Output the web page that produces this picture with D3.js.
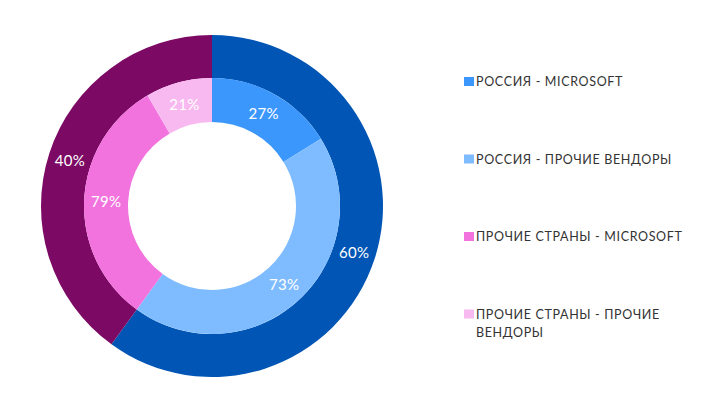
<html>
<head>
<script src="https://d3js.org/d3.v7.min.js"></script>
<style>
body { margin: 0; background: #fff; font-family: Lato, "Open Sans", sans-serif; }
.lbl { fill: #fff; font-size: 15px; text-anchor: middle; dominant-baseline: central; letter-spacing: 0.3px; }
.legend text { fill: #333; font-size: 12.5px; letter-spacing: 0.65px; }
</style>
</head>
<body>
<div id="chart"></div>
<script>
// outer ring: countries
var countries = ["РОССИЯ", "ПРОЧИЕ СТРАНЫ"];
var countryShare = [60, 40];
var countryColors = ["#0055b5", "#7c0964"];
// inner ring: vendor split inside each country (percent of that country)
var vendorShare = [[27, 73], [79, 21]];
var vendorColors = [["#3b97fc", "#7fbcff"], ["#f272de", "#f8b9f0"]];
var legendLabels = [
  ["РОССИЯ - MICROSOFT"],
  ["РОССИЯ - ПРОЧИЕ ВЕНДОРЫ"],
  ["ПРОЧИЕ СТРАНЫ - MICROSOFT"],
  ["ПРОЧИЕ СТРАНЫ - ПРОЧИЕ", "ВЕНДОРЫ"]
];

var width = 705, height = 417;
var cx = 212, cy = 206;
var rOuter = 171, rMid = 128, rHole = 84;

var svg = d3.select("#chart").append("svg")
  .attr("width", width).attr("height", height);
var g = svg.append("g").attr("transform", `translate(${cx}, ${cy})`);

/* outer ring */
var pie = d3.pie().sort(null).value(d => d);
var outerArcs = pie(countryShare);
var outerArc = d3.arc().innerRadius(rMid).outerRadius(rOuter);
g.selectAll(".outer").data(outerArcs).enter()
  .append("path").attr("class", "outer")
  .attr("d", outerArc)
  .attr("fill", (d, i) => countryColors[i]);
g.selectAll(".outer-lbl").data(outerArcs).enter()
  .append("text").attr("class", "lbl")
  .attr("transform", d => `translate(${outerArc.centroid(d)})`)
  .text(d => d.data + "%");

/* inner ring, nested inside each country slice */
var innerArc = d3.arc().innerRadius(rHole).outerRadius(rMid);
var innerData = [];
outerArcs.forEach(function(o, i) {
  var sub = d3.pie().sort(null).value(d => d)
    .startAngle(o.startAngle).endAngle(o.endAngle)(vendorShare[i]);
  sub.forEach(function(s, j) { s.color = vendorColors[i][j]; innerData.push(s); });
});
g.selectAll(".inner").data(innerData).enter()
  .append("path").attr("class", "inner")
  .attr("d", innerArc)
  .attr("fill", d => d.color);
g.selectAll(".inner-lbl").data(innerData).enter()
  .append("text").attr("class", "lbl")
  .attr("transform", d => `translate(${innerArc.centroid(d)})`)
  .text(d => d.data + "%");

/* legend */
var legendColors = [vendorColors[0][0], vendorColors[0][1], vendorColors[1][0], vendorColors[1][1]];
var legend = svg.append("g").attr("class", "legend");
var item = legend.selectAll("g").data(legendLabels).enter()
  .append("g")
  .attr("transform", (d, i) => `translate(464, ${77 + i * 77.5})`);
item.append("rect")
  .attr("width", 10).attr("height", 9)
  .attr("fill", (d, i) => legendColors[i]);
item.append("text")
  .attr("x", 12).attr("y", 9)
  .selectAll("tspan").data(d => d).enter()
  .append("tspan")
  .attr("x", 12)
  .attr("dy", (d, i) => i ? 18 : 0)
  .text(d => d);
</script>
</body>
</html>
